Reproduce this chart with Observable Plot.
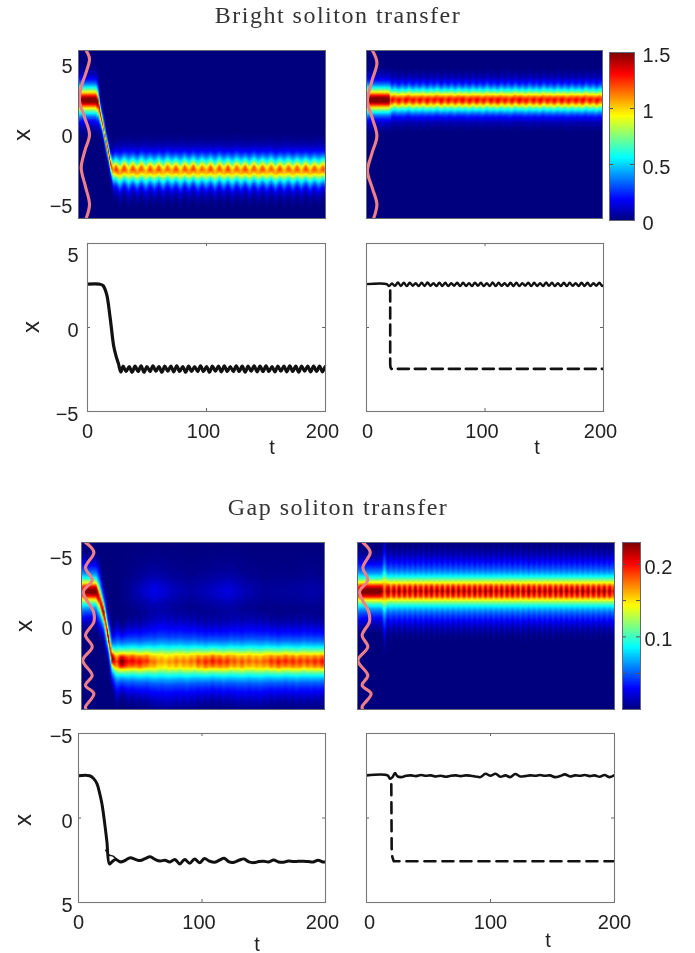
<!DOCTYPE html>
<html><head><meta charset="utf-8">
<script src="https://cdn.jsdelivr.net/npm/d3@7"></script>
<script src="https://cdn.jsdelivr.net/npm/@observablehq/plot@0.6"></script>
<style>
html,body{margin:0;padding:0;background:#fff}
#page{position:relative;width:695px;height:953px;overflow:hidden;font-family:"Liberation Sans",sans-serif;color:#222;filter:blur(.4px)}
#page svg{position:absolute;background:none;overflow:visible}
.title{position:absolute;font-family:"Liberation Serif",serif;font-size:24px;letter-spacing:1.5px;white-space:nowrap;transform:translate(-50%,-50%);color:#333}
.lab{position:absolute;font-size:20px;transform:translate(-50%,-50%);color:#222}
.lab.rot{font-size:24px;transform:translate(-50%,-50%) rotate(-90deg)}
</style></head><body><div id="page"></div>
<script>
// ---------- read values ----------
const jetStops = ["#00007f","#0000ff","#00ffff","#ffff00","#ff0000","#7f0000"];
const jetAt = [0,1/8,3/8,5/8,7/8,1];
const tTicks = [100,200];
const xTicks = [-5,0,5];
const brightBarTicks = [0,0.5,1,1.5];
const gapBarLabels = [0.1,0.2];
const gapBarTicks = [0.05,0.1,0.15,0.2];

// soliton shape: density ratio against distance from the centre
const brightDist = [0,.2,.4,.6,.8,1,1.2,1.4,1.6,1.8,2.2,2.6];
const brightShape = [1,.93,.76,.58,.44,.32,.22,.15,.1,.06,.02,0];
const gapDist = [0,.4,.8,1.2,1.6,2,2.4,2.8,3.2,3.8];
const gapShape = [1,.88,.6,.4,.27,.19,.13,.07,.03,0];

// potentials (pink curves)
const potAx = [6,5.4,4.4,3.4,2.4,1.2,0,-1.2,-2.4,-3.7,-5,-6];
const potAt = [6.2,8.9,6,2.2,0.8,5,8.9,5,2.2,5.6,8.9,6.2];
const potBx = [6,5.14,3.8,2.4,1.2,-0.1,-1.3,-2.6,-3.8,-5,-6];
const potBt = [5,8.8,4.5,0.85,4.8,8.8,4.8,0.85,4.8,8.8,6];
const potEx = [-6,-5.3,-4.2,-3.3,-2.45,-1,-.3,.67,1.5,2.47,3.55,4.26,4.86,5.8,6];
const potEt = [3.3,10.2,3.3,8.8,1.6,10,10.2,3.3,8.8,1.1,8.8,3.3,10.2,3.3,3.8];
const potFt = [4.2,9.9,4.2,8,1.6,8.8,9.3,3.6,8,0.3,8,3.6,10.6,3.6,4];

// panel A heat map
const aStartT = [0,14,16,18,20,22,24,26,28];
const aStartC = [2.45,2.45,2.2,1.3,.6,-.4,-1.2,-2.1,-2.6];
const aStartAT = [0,3,15,18,21,24,27,29];
const aStartA = [1.35,1.55,1.55,1.3,1.25,1.38,1.25,1.05];
const aTailC = [-2.45,-2.72,-2.42,-2.68,-2.45,-2.7,-2.42,-2.7,-2.46,-2.68,-2.44,-2.7,-2.42,-2.66,-2.46,-2.7,-2.44,-2.68,-2.42,-2.7,-2.46,-2.66,-2.44,-2.7,-2.42,-2.68,-2.45,-2.7,-2.44,-2.66,-2.46,-2.7,-2.42,-2.68,-2.45,-2.66,-2.44,-2.7,-2.46,-2.66,-2.44,-2.68,-2.45,-2.66,-2.44,-2.68,-2.46,-2.64,-2.45,-2.66];
const aTailA = [1.3,1.06,1.26,1.02,1.24,1.08,1.22,1.02,1.24,1.06,1.24,1.04,1.2,1.06,1.24,1.02,1.22,1.08,1.25,1.03,1.2,1.06,1.24,1.04,1.22,1.05,1.26,1.03,1.2,1.07,1.24,1.04,1.22,1.05,1.24,1.04,1.2,1.06,1.24,1.03,1.22,1.06,1.22,1.04,1.24,1.05,1.22,1.06,1.22,1.05];
const aWidthT = [0,15,18,22,26,30];
const aWidthF = [1.35,1.35,.7,.6,.7,1];

// panel B heat map
const bStartT = [0,3,19,20.5];
const bStartA = [1.35,1.58,1.58,1.2];
const bWidthT = [0,19,21];
const bWidthF = [1.3,1.3,1];
const bTailC = [2.44,2.52,2.42,2.5,2.44,2.54,2.42,2.5,2.44,2.52,2.42,2.5,2.44,2.54,2.42,2.5,2.44,2.52,2.42,2.52,2.44,2.5,2.42,2.52,2.44,2.5,2.42,2.54,2.44,2.5,2.42,2.52,2.44,2.5,2.42,2.54,2.44,2.5,2.42,2.52,2.44,2.5,2.42,2.54,2.44,2.5,2.42,2.52,2.44,2.5,2.42,2.52,2.44,2.5,2.42,2.54,2.44,2.5,2.42,2.52,2.44];
const bTailA = [1.38,1.22,1.36,1.2,1.38,1.24,1.34,1.22,1.36,1.2,1.38,1.22,1.34,1.24,1.38,1.2,1.36,1.22,1.34,1.24,1.38,1.2,1.36,1.22,1.38,1.22,1.34,1.2,1.36,1.24,1.38,1.22,1.34,1.2,1.36,1.22,1.38,1.24,1.34,1.2,1.36,1.22,1.38,1.22,1.34,1.24,1.36,1.2,1.38,1.22,1.34,1.22,1.36,1.24,1.38,1.2,1.34,1.22,1.36,1.22,1.36];

// panel E heat map
const eStartT = [0,12,15,18.4,22,25,28];
const eStartC = [-2.5,-2.5,-1.9,-.89,.79,2.3,2.55];
const eStartAT = [0,3,12,15,18.4,20,22,23.5,25,29,33];
const eStartA = [.2,.235,.24,.2,.24,.19,.24,.19,.24,.18,.245];
const eTailC = [2.55,2.55,2.52,2.55,2.58,2.55,2.52,2.55,2.58,2.55,2.52,2.55,2.58,2.55,2.55,2.52,2.55,2.58,2.55,2.52,2.55,2.55,2.58,2.55,2.52,2.55,2.55,2.58,2.55,2.52,2.55,2.55,2.58,2.55,2.52,2.55,2.55,2.58,2.55,2.52,2.55,2.55,2.58,2.55,2.52,2.55,2.55,2.58,2.55,2.52,2.55,2.55,2.55,2.55,2.55,2.55];
const eTailA = [.215,.2,.21,.195,.205,.19,.195,.175,.18,.165,.17,.16,.172,.165,.18,.165,.178,.168,.182,.17,.195,.178,.2,.185,.205,.185,.2,.182,.198,.178,.188,.172,.19,.172,.185,.17,.182,.172,.185,.178,.198,.182,.202,.186,.2,.184,.2,.182,.198,.18,.196,.182,.2,.186,.205,.19];
const eGhostT = [30,38,50,60,75,90,105,120,135,150,175,190,200];
const eGhostA = [0,.004,.015,.025,.014,.008,.014,.022,.012,.006,.007,.01,.007];
const eWidthT = [0,13,18,22,26,30];
const eWidthF = [1,1,.78,.72,.85,1];

// panel F heat map
const fStartT = [0,3,18,19.5,21,22.5];
const fStartA = [.2,.24,.24,.22,.17,.215];
const fStartWT = [0,19,21,23];
const fStartW = [1,1,1.3,1];
const fTailA = [.235,.182,.238,.186,.24,.184,.238,.188,.235,.182,.24,.186,.236,.184,.24,.188,.242,.184,.236,.186,.24,.182,.238,.188,.242,.184,.234,.186,.24,.188,.236,.182,.242,.186,.236,.184,.24,.188,.242,.184,.234,.186,.24,.182,.236,.188,.242,.186,.236,.182,.24,.186,.242,.188,.236,.184,.24,.186,.234,.188,.242,.182,.236,.186,.24,.184,.242,.188,.236,.186,.24,.182,.242,.188,.236,.186,.24,.184,.238,.188,.242,.186,.236,.184,.24,.188];

// panel C line
const cStartT = [0,10,13,16,19,22,24,26,28];
const cStartX = [2.58,2.58,2.5,2.0,0.6,-1.1,-1.7,-2.15,-2.65];
const cTailX = [-2.3,-2.62,-2.32,-2.66,-2.3,-2.62,-2.28,-2.66,-2.32,-2.62,-2.28,-2.6,-2.32,-2.66,-2.3,-2.6,-2.3,-2.64,-2.28,-2.62,-2.32,-2.66,-2.3,-2.62,-2.32,-2.62,-2.28,-2.62,-2.32,-2.66,-2.3,-2.6,-2.3,-2.64,-2.28,-2.62,-2.32,-2.62,-2.28,-2.62,-2.3,-2.66,-2.3,-2.6,-2.28,-2.64,-2.3,-2.62,-2.28,-2.62,-2.32,-2.64,-2.3,-2.6,-2.3,-2.64,-2.28,-2.62,-2.3,-2.66,-2.3,-2.6,-2.3,-2.64,-2.3,-2.62,-2.3,-2.64,-2.3,-2.62];

// panel D lines
const dStartT = [0,17];
const dStartX = [2.58,2.58];
const dTailX = [2.46,2.62,2.48,2.68,2.47,2.66,2.46,2.67,2.48,2.64,2.46,2.66,2.47,2.68,2.48,2.64,2.46,2.67,2.47,2.66,2.46,2.64,2.48,2.67,2.46,2.66,2.47,2.64,2.46,2.67,2.48,2.66,2.46,2.64,2.47,2.68,2.46,2.66,2.48,2.64,2.46,2.67,2.47,2.66,2.46,2.64,2.48,2.67,2.46,2.66,2.47,2.64,2.46,2.68,2.48,2.66,2.46,2.64,2.47,2.67,2.46,2.66,2.48,2.64,2.46,2.67,2.47,2.66,2.46,2.64,2.48,2.67,2.47,2.66];
const dDashT = [20,20,20.3,21,22,200];
const dDashX = [2.2,-2.2,-2.38,-2.46,-2.46,-2.46];

// panel G lines
const gStartT = [0,9,12,15,17,19,21,23,25,27,30,34];
const gStartX = [-2.5,-2.5,-2.35,-2.02,-1.5,-.83,.2,1.4,2.72,2.6,2.45,2.6];
const gTailX = [2.5,2.35,2.45,2.52,2.4,2.3,2.45,2.55,2.5,2.6,2.45,2.72,2.45,2.68,2.42,2.65,2.4,2.55,2.62,2.5,2.38,2.6,2.62,2.5,2.42,2.6,2.64,2.58,2.56,2.6,2.48,2.6,2.62,2.55,2.58,2.56,2.56,2.58,2.6,2.5,2.6,2.6];
const gEchoT = [22,25,28,32,36];
const gEchoX = [1.9,2.2,2.25,2.5,2.58];

// panel H lines
const hSolidT = [0,17,19,21,23,25,28,32,36,40,44,48,52,56,60,64,68,72,76,80,84,88,92,96,100,104,108,112,116,120,124,128,132,136,140,144,148,152,156,160,164,168,172,176,180,184,188,192,196,200];
const hSolidX = [-2.52,-2.52,-2.32,-2.42,-2.66,-2.46,-2.42,-2.5,-2.52,-2.48,-2.54,-2.5,-2.52,-2.46,-2.5,-2.44,-2.5,-2.52,-2.48,-2.52,-2.5,-2.46,-2.42,-2.62,-2.5,-2.62,-2.44,-2.52,-2.42,-2.6,-2.46,-2.48,-2.52,-2.5,-2.54,-2.5,-2.52,-2.42,-2.48,-2.58,-2.46,-2.52,-2.5,-2.54,-2.48,-2.52,-2.44,-2.54,-2.42,-2.54];
const hDashT = [20,20.3,20.8,22,24,200];
const hDashX = [-2,1.8,2.3,2.56,2.56,2.56];

// ---------- helpers ----------
const page = document.getElementById("page");
const jetInterp = t => {
  const i = Math.max(0, d3.bisectRight(jetAt, t) - 1), j = Math.min(jetAt.length - 1, i + 1);
  const k = j === i ? 0 : (t - jetAt[i]) / (jetAt[j] - jetAt[i]);
  return d3.interpolateRgb(jetStops[i], jetStops[j])(Math.min(1, Math.max(0, k)));
};
const series = (start, step, values) => values.map((_, i) => start + i * step);
const interp = (ts, vs) => d3.scaleLinear().domain(ts).range(vs).clamp(true);

const NT = 220, NX = 132;
function heatValues({cT, cV, aT, aV, wT, wV, a0, dist, shape, ghostT, ghostA}) {
  const c = interp(cT, cV), a = interp(aT, aV), w = interp(wT, wV);
  const prof = interp(dist, shape);
  const g = ghostT ? interp(ghostT, ghostA) : null;
  const out = new Float64Array(NT * NX);
  for (let j = 0; j < NX; ++j) {
    const x = -6 + (j + .5) * 12 / NX;
    for (let i = 0; i < NT; ++i) {
      const t = (i + .5) * 200 / NT;
      const amp = a(t);
      let v = amp * prof(Math.abs(x - c(t)) / (w(t) * a0 / amp));
      if (g) v += g(t) * prof(Math.abs(x + 2.5) / 1.0);
      out[j * NT + i] = v;
    }
  }
  return out;
}

function panel(f, o) {
  const ml = 50, mr = 45, mt = 10, mb = 42;
  const svg = Plot.plot({
    width: f.w + ml + mr, height: f.h + mt + mb,
    marginLeft: ml, marginRight: mr, marginTop: mt, marginBottom: mb,
    style: {background: "none", fontFamily: '"Liberation Sans",sans-serif', fontSize: "20px", color: "#222"},
    x: {domain: o.xDomain ?? [0,200], axis: null},
    y: {domain: o.yDomain, reverse: !!o.reverse, axis: null},
    color: o.colorMax ? {type: "linear", domain: [0, o.colorMax], interpolate: jetInterp, clamp: true} : undefined,
    marks: o.marks
  });
  svg.style.left = (f.l - ml) + "px";
  svg.style.top = (f.t - mt) + "px";
  page.appendChild(svg);
}
const pink = (t, x) => Plot.line(t.map((d, i) => ({t: d, x: x[i]})), {x: "t", y: "x", stroke: "#ee8085", strokeWidth: 3.1, curve: "catmull-rom", clip: true});
const lineOf = (t, x, extra = {}) => Plot.line(t.map((d, i) => ({t: d, x: x[i]})), {x: "t", y: "x", stroke: "#111", strokeWidth: 2.6, curve: "catmull-rom", clip: true, ...extra});
const yLabels = (ticks, dy, dx = 0) => Plot.axisY({ticks, tickSize: 0, tickPadding: 6 - dx, dy, fontSize: 20, anchor: "left", label: null, tickFormat: d => d < 0 ? "\u2212" + (-d) : String(d), lineAnchor: "middle"});
const tLabels = (ticks, dx) => Plot.axisX({ticks, tickSize: 0, tickPadding: 12, dx, fontSize: 20, anchor: "bottom", label: null, tickFormat: d => String(d)});
const inTicks = (w, h) => [
  Plot.tickX([100], {x: d => d, insetBottom: h - 3, stroke: "#666"}),
  Plot.tickX([100], {x: d => d, insetTop: h - 3, stroke: "#666"}),
  Plot.tickY([0], {y: d => d, insetLeft: w - 3, stroke: "#666"}),
  Plot.tickY([0], {y: d => d, insetRight: w - 3, stroke: "#666"})
];
const frameLine = Plot.frame({stroke: "#777", strokeWidth: 1.1});
const frameHeat = Plot.frame({stroke: "#667", strokeWidth: 1});

function heatMarks(values) {
  return Plot.raster(values, {width: NT, height: NX, x1: 0, x2: 200, y1: -6, y2: 6, fill: d => d});
}

// ---------- titles and axis names ----------
[["Bright soliton transfer",338,15],["Gap soliton transfer",338,507]].forEach(([s,x,y]) => {
  const d = document.createElement("div"); d.className = "title"; d.textContent = s;
  d.style.left = x + "px"; d.style.top = y + "px"; page.appendChild(d);
});
[["x",22,135,1],["x",31,327,1],["x",24,626,1],["x",23,820,1],["t",272,447,0],["t",537,447,0],["t",257,944,0],["t",548,940,0]].forEach(([s,x,y,r]) => {
  const d = document.createElement("div"); d.className = "lab" + (r ? " rot" : ""); d.textContent = s;
  d.style.left = x + "px"; d.style.top = y + "px"; page.appendChild(d);
});

// ---------- panel A ----------
panel({l:78,t:50,w:247,h:168}, {yDomain:[-6,6], colorMax:1.5, marks:[
  heatMarks(heatValues({
    cT:[...aStartT,...series(30,3.5,aTailC)], cV:[...aStartC,...aTailC],
    aT:[...aStartAT,...series(30,3.5,aTailA)], aV:[...aStartA,...aTailA],
    wT:aWidthT, wV:aWidthF, a0:1.15, dist:brightDist, shape:brightShape})),
  pink(potAt, potAx), frameHeat,
  yLabels(xTicks, 2)
]});
// ---------- panel B ----------
panel({l:366,t:50,w:236,h:168}, {yDomain:[-6,6], colorMax:1.5, marks:[
  heatMarks(heatValues({
    cT:[0,19,...series(21,3,bTailC)], cV:[2.47,2.47,...bTailC],
    aT:[...bStartT,...series(21.5,3,bTailA)], aV:[...bStartA,...bTailA],
    wT:bWidthT, wV:bWidthF, a0:1.15, dist:brightDist, shape:brightShape})),
  pink(potBt, potBx), frameHeat
]});
// ---------- bright colour bar ----------
panel({l:609,t:52,w:25,h:168}, {xDomain:[0,1], yDomain:[0,1.5], colorMax:1.5, marks:[
  Plot.raster(d3.range(0,1.5001,.005), {width:1, height:301, x1:0, x2:1, y1:0, y2:1.5, fill:d=>d}),
  Plot.tickY([.5,1], {y:d=>d, insetRight:21, stroke:"#555"}),
  Plot.tickY([.5,1], {y:d=>d, insetLeft:21, stroke:"#555"}),
  Plot.frame({stroke:"#667"}),
  Plot.axisY({ticks:brightBarTicks, anchor:"right", tickSize:0, tickPadding:8, dy:3, fontSize:20, label:null, tickFormat:d=>String(d)})
]});
// ---------- panel C ----------
panel({l:87,t:243,w:238,h:168}, {yDomain:[-5,5], marks:[
  lineOf([...cStartT,...series(30,2.5,cTailX)], [...cStartX,...cTailX], {strokeWidth:3.2}),
  ...inTicks(238,168), frameLine,
  yLabels([-5,0], 3, -3), yLabels([5], 12, -3), tLabels([0], 0), tLabels(tTicks, -3)
]});
// ---------- panel D ----------
panel({l:366,t:243,w:237,h:168}, {yDomain:[-5,5], marks:[
  lineOf(dDashT, dDashX, {strokeDasharray:"11 6", curve:"linear"}),
  lineOf([...dStartT,...series(19,2.5,dTailX)], [...dStartX,...dTailX], {strokeWidth:2.4}),
  ...inTicks(237,168), frameLine,
  tLabels([0], 1), tLabels(tTicks, -3)
]});
// ---------- panel E ----------
panel({l:81,t:542,w:243,h:167}, {yDomain:[-6,6], reverse:true, colorMax:.23, marks:[
  heatMarks(heatValues({
    cT:[...eStartT,...series(36,3,eTailC)], cV:[...eStartC,...eTailC],
    aT:[...eStartAT,...series(36,3,eTailA)], aV:[...eStartA,...eTailA],
    wT:eWidthT, wV:eWidthF, a0:.18, dist:gapDist, shape:gapShape, ghostT:eGhostT, ghostA:eGhostA})),
  pink(potEt, potEx), frameHeat,
  yLabels(xTicks, 2.5, -3)
]});
// ---------- panel F ----------
panel({l:357,t:542,w:257,h:167}, {yDomain:[-6,6], reverse:true, colorMax:.23, marks:[
  heatMarks(heatValues({
    cT:[0,200], cV:[-2.5,-2.5],
    aT:[...fStartT,...series(24,2.1,fTailA)], aV:[...fStartA,...fTailA],
    wT:fStartWT, wV:fStartW, a0:.19, dist:gapDist, shape:gapShape})),
  pink(potFt, potEx), frameHeat
]});
// ---------- gap colour bar ----------
panel({l:622,t:542,w:18,h:167}, {xDomain:[0,1], yDomain:[0,.23], colorMax:.23, marks:[
  Plot.raster(d3.range(0,.2301,.001), {width:1, height:231, x1:0, x2:1, y1:0, y2:.23, fill:d=>d}),
  Plot.tickY(gapBarTicks, {y:d=>d, insetRight:14, stroke:"#555"}),
  Plot.tickY(gapBarTicks, {y:d=>d, insetLeft:14, stroke:"#555"}),
  Plot.frame({stroke:"#667"}),
  Plot.axisY({ticks:gapBarLabels, anchor:"right", tickSize:0, tickPadding:4, dy:3, fontSize:20, label:null, tickFormat:d=>String(d)})
]});
// ---------- panel G ----------
panel({l:78,t:733,w:247,h:169}, {yDomain:[-5,5], reverse:true, marks:[
  lineOf(gEchoT, gEchoX, {strokeWidth:1.4}),
  lineOf([...gStartT,...series(38,4,gTailX)], [...gStartX,...gTailX], {strokeWidth:3}),
  ...inTicks(247,169), frameLine,
  yLabels(xTicks, 3.5), tLabels([0], 0), tLabels(tTicks, -3)
]});
// ---------- panel H ----------
panel({l:366,t:733,w:248,h:169}, {yDomain:[-5,5], reverse:true, marks:[
  lineOf(hDashT, hDashX, {strokeDasharray:"11 7", curve:"linear"}),
  lineOf(hSolidT, hSolidX, {strokeWidth:2.6}),
  ...inTicks(248,169), frameLine,
  tLabels([0], 3), tLabels(tTicks, 0)
]});
</script></body></html>
